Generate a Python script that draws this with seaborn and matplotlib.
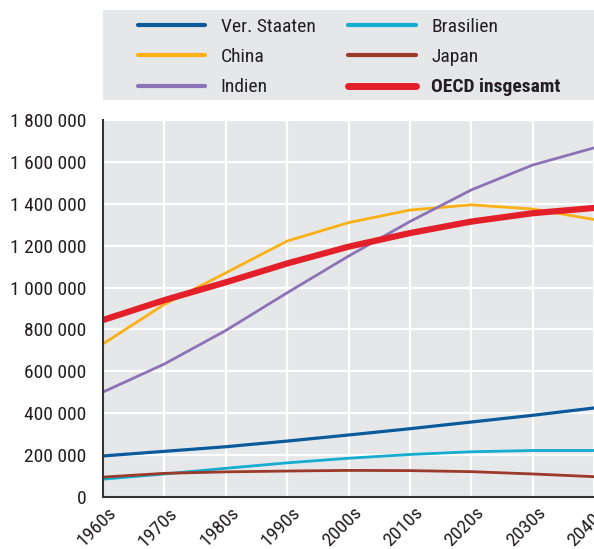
import matplotlib
matplotlib.use("Agg")
import matplotlib.pyplot as plt
import matplotlib.transforms as mtransforms
import seaborn as sns
import pandas as pd
from matplotlib.ticker import FuncFormatter
from matplotlib.patches import Rectangle
from matplotlib import font_manager as fm

decades = ["1960s", "1970s", "1980s", "1990s", "2000s", "2010s", "2020s", "2030s", "2040s"]
us = [196000, 218000, 240000, 267000, 296000, 326000, 358000, 390000, 425000]
china = [731000, 920000, 1070000, 1222000, 1310000, 1370000, 1395000, 1375000, 1325000]
india = [501000, 635000, 795000, 975000, 1150000, 1315000, 1466000, 1585000, 1667000]
brazil = [85000, 110000, 137000, 163000, 185000, 203000, 216000, 222000, 222000]
japan = [95000, 113000, 120000, 124000, 127000, 126000, 121000, 110000, 97000]
oecd = [845000, 940000, 1025000, 1115000, 1195000, 1260000, 1315000, 1355000, 1380000]

series_names = ["Ver. Staaten", "China", "Indien", "Brasilien", "Japan", "OECD insgesamt"]
series_vals = [us, china, india, brazil, japan, oecd]
colors = ["#0a5a9c", "#fbb116", "#8c73b8", "#14acd0", "#9b3a2a", "#e3202a"]
widths = [2.3, 2.0, 2.0, 2.0, 2.0, 4.5]

rows = []
for name, vals in zip(series_names, series_vals):
    for i, v in enumerate(vals):
        rows.append({"x": i, "value": v, "series": name})
df = pd.DataFrame(rows)

sns.set_style("whitegrid", {"axes.facecolor": "#e6e7e9", "grid.color": "white"})
names = {f.name for f in fm.fontManager.ttflist}
fam = "DejaVu Sans"
for cand in ["Liberation Sans Narrow", "Roboto Condensed", "Open Sans Condensed", "DejaVu Sans Condensed"]:
    if cand in names:
        fam = cand
        break
plt.rcParams["font.family"] = [fam, "DejaVu Sans"]
plt.rcParams["font.stretch"] = "condensed"
textc = "#231f20"
fs = 14

fig = plt.figure(figsize=(5.94, 5.49), dpi=100)
W, H = 594, 549
ax = fig.add_axes([103 / W, 1 - 497 / H, (594 - 103) / W, (497 - 120) / H])

for name, c, lw in zip(series_names, colors, widths):
    sns.lineplot(data=df[df["series"] == name], x="x", y="value", color=c,
                 linewidth=lw, ax=ax, label=name, legend=False)

ax.set_xlim(0, 8)
ax.set_ylim(0, 1800000)
ax.set_xticks(range(len(decades)))
ax.set_xticklabels(decades, rotation=45, ha="right", rotation_mode="anchor")
ax.set_yticks(range(0, 1800001, 200000))
ax.yaxis.set_major_formatter(FuncFormatter(lambda v, p: f"{int(v):,}".replace(",", " ")))
ax.set_xlabel("")
ax.set_ylabel("")
ax.grid(True, color="white", linewidth=1.6)
for s in ["top", "right"]:
    ax.spines[s].set_visible(False)
for s in ["left", "bottom"]:
    ax.spines[s].set_visible(True)
    ax.spines[s].set_color("#333333")
    ax.spines[s].set_linewidth(1.5)
ax.tick_params(axis="both", direction="in", length=5, width=1, color="#555555",
               labelsize=fs, labelcolor=textc)
ax.tick_params(axis="y", pad=12)
ax.tick_params(axis="x", pad=5)
offset = mtransforms.ScaledTranslation(4 / 100, 0, fig.dpi_scale_trans)
for lab in ax.get_xticklabels():
    lab.set_transform(lab.get_transform() + offset)

# legend background
fig.patches.append(Rectangle((103 / W, 1 - 100 / H), (594 - 103) / W, 90 / H,
                             transform=fig.transFigure, facecolor="#e6e7e9",
                             edgecolor="none", zorder=0))
handles, labels = ax.get_legend_handles_labels()
leg = fig.legend(handles, labels, ncol=2, loc="upper left",
                 bbox_to_anchor=(120 / W, 1 - 0 / H), frameon=False,
                 fontsize=fs, handlelength=3.45, handletextpad=0.82,
                 columnspacing=1.7, labelspacing=0.64)
for t in leg.get_texts():
    t.set_color(textc)
leg.get_texts()[-1].set_fontweight("bold")
for lh in leg.get_lines():
    lh.set_linewidth(3)
leg.get_lines()[-1].set_linewidth(5)

fig.savefig("out.png", dpi=100)
